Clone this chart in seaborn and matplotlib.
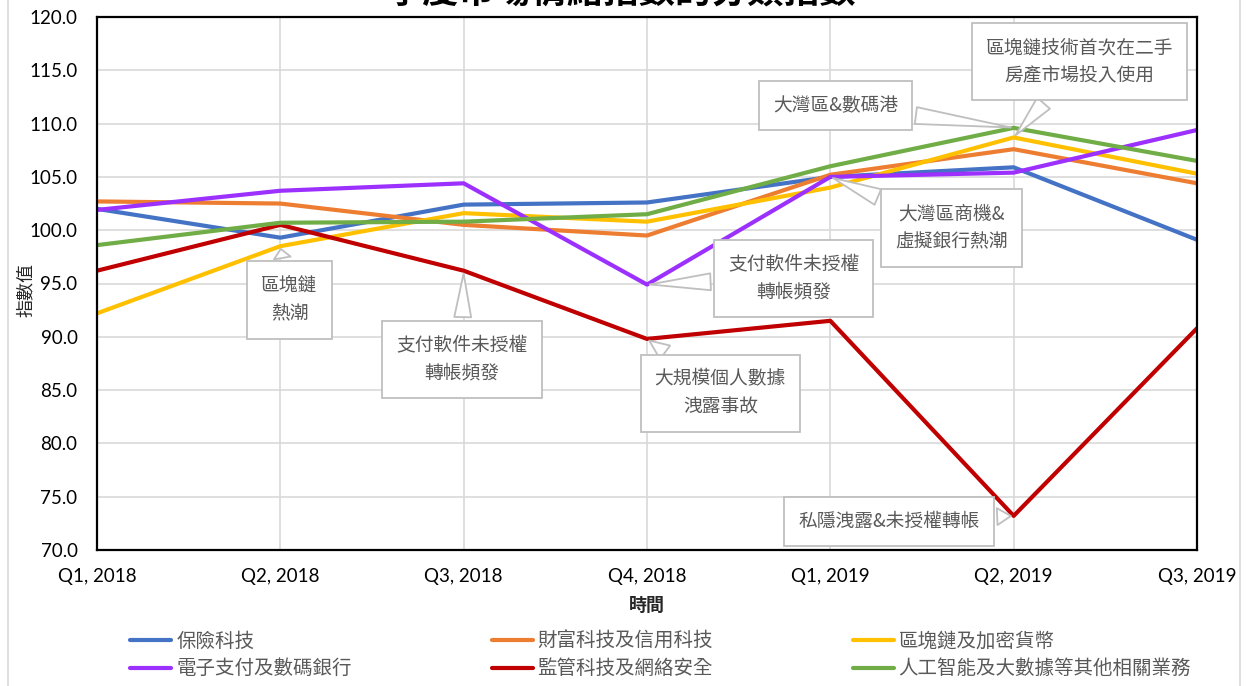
import matplotlib
matplotlib.use("Agg")
import matplotlib.pyplot as plt
import seaborn as sns
import pandas as pd
from matplotlib.patches import Rectangle
from matplotlib.lines import Line2D

quarters = ["Q1, 2018", "Q2, 2018", "Q3, 2018", "Q4, 2018", "Q1, 2019", "Q2, 2019", "Q3, 2019"]
insurtech = [102.0, 99.3, 102.4, 102.6, 105.0, 105.9, 99.1]
wealthtech = [102.7, 102.5, 100.5, 99.5, 105.2, 107.6, 104.4]
blockchain = [92.2, 98.5, 101.6, 100.8, 104.0, 108.7, 105.3]
epayment = [101.9, 103.7, 104.4, 94.9, 105.0, 105.4, 109.4]
regtech = [96.2, 100.5, 96.2, 89.8, 91.5, 73.2, 90.8]
ai_bigdata = [98.6, 100.7, 100.8, 101.5, 106.0, 109.6, 106.5]

series_names = ["保險科技", "財富科技及信用科技", "區塊鏈及加密貨幣",
                "電子支付及數碼銀行", "監管科技及網絡安全", "人工智能及大數據等其他相關業務"]
series_values = [insurtech, wealthtech, blockchain, epayment, regtech, ai_bigdata]
colors = ["#4472C4", "#ED7D31", "#FFC000", "#9B30FF", "#C00000", "#70AD47"]

y_ticks = [70.0, 75.0, 80.0, 85.0, 90.0, 95.0, 100.0, 105.0, 110.0, 115.0, 120.0]

# annotations: (text, series index, quarter index, box centre x, box centre y)
notes = [
    ("區塊鏈\n熱潮", 2, 1, 1.05, 93.45),
    ("支付軟件未授權\n轉帳頻發", 4, 2, 1.99, 87.9),
    ("大規模個人數據\n洩露事故", 4, 3, 3.40, 84.7),
    ("支付軟件未授權\n轉帳頻發", 3, 3, 3.80, 95.5),
    ("大灣區商機&\n虛擬銀行熱潮", 3, 4, 4.66, 100.2),
    ("大灣區&數碼港", 5, 5, 4.03, 111.7),
    ("區塊鏈技術首次在二手\n房產市場投入使用", 2, 5, 5.36, 115.8),
    ("私隱洩露&未授權轉帳", 4, 5, 4.32, 72.7),
]

rows = []
for name, vals in zip(series_names, series_values):
    for q, v in zip(quarters, vals):
        rows.append({"時間": q, "指數值": v, "series": name})
df = pd.DataFrame(rows)

sns.set_theme(style="white")
cjk = ["Noto Sans CJK TC", "DejaVu Sans"]
plt.rcParams["font.family"] = cjk

fig = plt.figure(figsize=(12.56, 6.86), dpi=100)
ax = fig.add_axes([97/1256, 1-550/686, 1100/1256, 533/686])

sns.lineplot(data=df, x="時間", y="指數值", hue="series", hue_order=series_names,
             palette=colors, linewidth=3.0, ax=ax, legend=False, sort=False)

ax.set_xlim(0, len(quarters) - 1)
ax.set_ylim(70, 120)
ax.set_yticks(y_ticks)
ax.set_yticklabels([f"{t:.1f}" for t in y_ticks], fontsize=13.5, family="Lato", color="#000000")
ax.set_xticks(range(len(quarters)))
ax.set_xticklabels(quarters, fontsize=13.5, family="Lato", color="#000000")
ax.tick_params(axis="x", pad=13, length=0)
ax.tick_params(axis="y", pad=14, length=0)
ax.grid(True, color="#D9D9D9", linewidth=1.2)
ax.set_axisbelow(True)
for s in ax.spines.values():
    s.set_color("black")
    s.set_linewidth(1.6)
    s.set_visible(True)

ax.set_xlabel("時間", fontsize=13, fontweight="bold")
ax.set_ylabel("指數值", fontsize=13)
ax.xaxis.set_label_coords(0.5, (550 - 596) / 533)
ax.yaxis.set_label_coords((35 - 97) / 1100, (550 - 290) / 533)

for text, si, qi, tx, ty in notes:
    ax.annotate(text, xy=(qi, series_values[si][qi]), xytext=(tx, ty),
                ha="center", va="center", fontsize=13.5, color="#595959",
                linespacing=1.45, zorder=10,
                bbox=dict(boxstyle="square,pad=0.75", fc="white", ec="#BFBFBF", lw=1.3),
                arrowprops=dict(arrowstyle="wedge,tail_width=0.9",
                                fc="white", ec="#BFBFBF", lw=1.3))

fig.text(0.494, 0.984, "季度市場情緒指數的分類指數", ha="center", va="bottom",
         fontsize=26, fontweight="bold", color="#000000")

handles = [Line2D([0], [0], color=c, lw=3.0) for c in colors]
order = [0, 3, 1, 4, 2, 5]
fig.legend([handles[i] for i in order], [series_names[i] for i in order],
           ncol=3, loc="upper left", bbox_to_anchor=(113/1256, 1-613/686),
           frameon=False, fontsize=14, handlelength=2.1, handletextpad=0.25,
           columnspacing=7.2, labelspacing=0.35, labelcolor="#595959")

fig.add_artist(Rectangle((8/1256, -0.02), 1232/1256, 1.05, transform=fig.transFigure,
                         fill=False, ec="#D9D9D9", lw=1.2))

fig.savefig("out.png", dpi=100)
